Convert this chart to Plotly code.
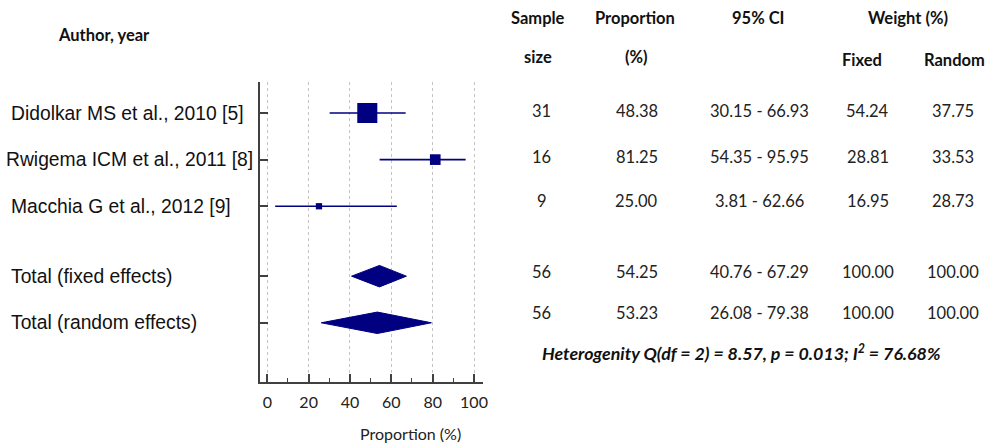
import plotly.graph_objects as go

# ---- data ----
studies = ["Didolkar MS et al., 2010 [5]", "Rwigema ICM et al., 2011 [8]", "Macchia G et al., 2012 [9]"]
totals = ["Total (fixed effects)", "Total (random effects)"]
sample_size = [31, 16, 9]
proportion = [48.38, 81.25, 25.00]
ci_low = [30.15, 54.35, 3.81]
ci_high = [66.93, 95.95, 62.66]
weight_fixed = [54.24, 28.81, 16.95]
weight_random = [37.75, 33.53, 28.73]

total_n = [56, 56]
total_prop = [54.25, 53.23]
total_low = [40.76, 26.08]
total_high = [67.29, 79.38]
total_wf = [100.00, 100.00]
total_wr = [100.00, 100.00]

x_ticks = [0, 20, 40, 60, 80, 100]
heterogeneity = "Heterogenity Q(df = 2) = 8.57, p = 0.013; I<sup>2</sup> = 76.68%"

# ---- layout helpers ----
study_rows = [0, 1, 2]
total_rows = [3.5, 4.5]
NAVY = "#000080"
AX = "#404040"

W, H = 989, 444
L, R, T, B = 260, 483, 82, 382

def px_x(px):
    return (px - L) / (R - L)

def px_y(py):
    return (B - py) / (B - T)

fig = go.Figure()

# CI lines + squares
fig.add_trace(go.Scatter(
    x=proportion, y=study_rows, mode="markers",
    marker=dict(symbol="square", color=NAVY, size=[w * 0.37 for w in weight_fixed],
                line=dict(width=0), opacity=1),
    error_x=dict(type="data", symmetric=False,
                 array=[h - p for h, p in zip(ci_high, proportion)],
                 arrayminus=[p - l for p, l in zip(proportion, ci_low)],
                 color=NAVY, thickness=1.6, width=0),
    showlegend=False, hoverinfo="skip"))

# diamonds
half_h = 0.23
for lo, est, hi, r in zip(total_low, total_prop, total_high, total_rows):
    fig.add_trace(go.Scatter(
        x=[lo, est, hi, est, lo], y=[r, r - half_h, r, r + half_h, r],
        mode="lines", fill="toself", fillcolor=NAVY,
        line=dict(color=NAVY, width=1), showlegend=False, hoverinfo="skip"))

fig.update_xaxes(
    range=[-3.53, 104.35], tickvals=x_ticks, ticktext=[str(v) for v in x_ticks],
    ticks="inside", ticklen=8, tickwidth=1.5, tickcolor=AX,
    minor=dict(dtick=10, tick0=0, ticks="inside", ticklen=4, tickcolor=AX, tickwidth=1.2, showgrid=False),
    showline=True, linecolor=AX, linewidth=1.6,
    showgrid=True, gridcolor="#c4c4c4", griddash="dot", gridwidth=1,
    zeroline=False, tickfont=dict(family="Lato", size=16, color="#222"),
    ticklabelstandoff=5, fixedrange=True)

fig.update_yaxes(
    range=[5.77, -0.665], tickvals=study_rows + total_rows, showticklabels=False,
    ticks="inside", ticklen=8, tickwidth=1.5, tickcolor=AX,
    showline=True, linecolor=AX, linewidth=1.6,
    showgrid=False, zeroline=False, fixedrange=True)

ann = []
label_font = dict(family="Liberation Sans, Arial", size=19.3, color="#111")
label_left = [9, 4, 9]
for name, r, lx in zip(studies, study_rows, label_left):
    ann.append(dict(text=name, x=px_x(lx), xref="paper", y=r, yref="y",
                    xanchor="left", yanchor="middle", showarrow=False, font=label_font))
for name, r in zip(totals, total_rows):
    ann.append(dict(text=name, x=px_x(9), xref="paper", y=r, yref="y",
                    xanchor="left", yanchor="middle", showarrow=False, font=label_font))

hdr_font = dict(family="Lato", size=16.5, color="#111")
val_font = dict(family="Lato", size=16.5, color="#222")

headers = [
    ("Author, year", 104, 35),
    ("Sample", 538, 18), ("size", 538, 57),
    ("Proportion", 635, 18), ("(%)", 636, 57),
    ("95% CI", 757.5, 18),
    ("Weight (%)", 907.5, 18), ("Fixed", 862, 60), ("Random", 954, 60),
]
for txt, cx, cy in headers:
    ann.append(dict(text="<b>" + txt + "</b>", x=px_x(cx), xref="paper", y=px_y(cy), yref="paper",
                    xanchor="center", yanchor="middle", showarrow=False, font=hdr_font))

col_x = [541.7, 636.7, 759, 867.5, 953]
row_y = [111, 157, 201, 272, 313]
rows_text = []
for n, p, lo, hi, wf, wr in zip(sample_size, proportion, ci_low, ci_high, weight_fixed, weight_random):
    rows_text.append([str(n), f"{p:.2f}", f"{lo:.2f} - {hi:.2f}", f"{wf:.2f}", f"{wr:.2f}"])
for n, p, lo, hi, wf, wr in zip(total_n, total_prop, total_low, total_high, total_wf, total_wr):
    rows_text.append([str(n), f"{p:.2f}", f"{lo:.2f} - {hi:.2f}", f"{wf:.2f}", f"{wr:.2f}"])
for cells, cy in zip(rows_text, row_y):
    for txt, cx in zip(cells, col_x):
        ann.append(dict(text=txt, x=px_x(cx), xref="paper", y=px_y(cy), yref="paper",
                        xanchor="center", yanchor="middle", showarrow=False, font=val_font))

ann.append(dict(text="<b><i>" + heterogeneity + "</i></b>", x=px_x(741.7), xref="paper",
                y=px_y(352), yref="paper", xanchor="center", yanchor="middle",
                showarrow=False, font=dict(family="Lato", size=17.8, color="#111")))

ann.append(dict(text="Proportion (%)", x=px_x(410), xref="paper", y=px_y(433), yref="paper",
                xanchor="center", yanchor="middle", showarrow=False,
                font=dict(family="Lato", size=16, color="#222")))

fig.update_layout(
    width=W, height=H, autosize=False,
    margin=dict(l=L, r=W - R, t=T, b=H - B, pad=0),
    paper_bgcolor="white", plot_bgcolor="white",
    annotations=ann, showlegend=False)

fig.write_html("out.html", config={"displayModeBar": False},
               post_script="document.body.style.margin='0px';document.body.style.overflow='hidden';")
